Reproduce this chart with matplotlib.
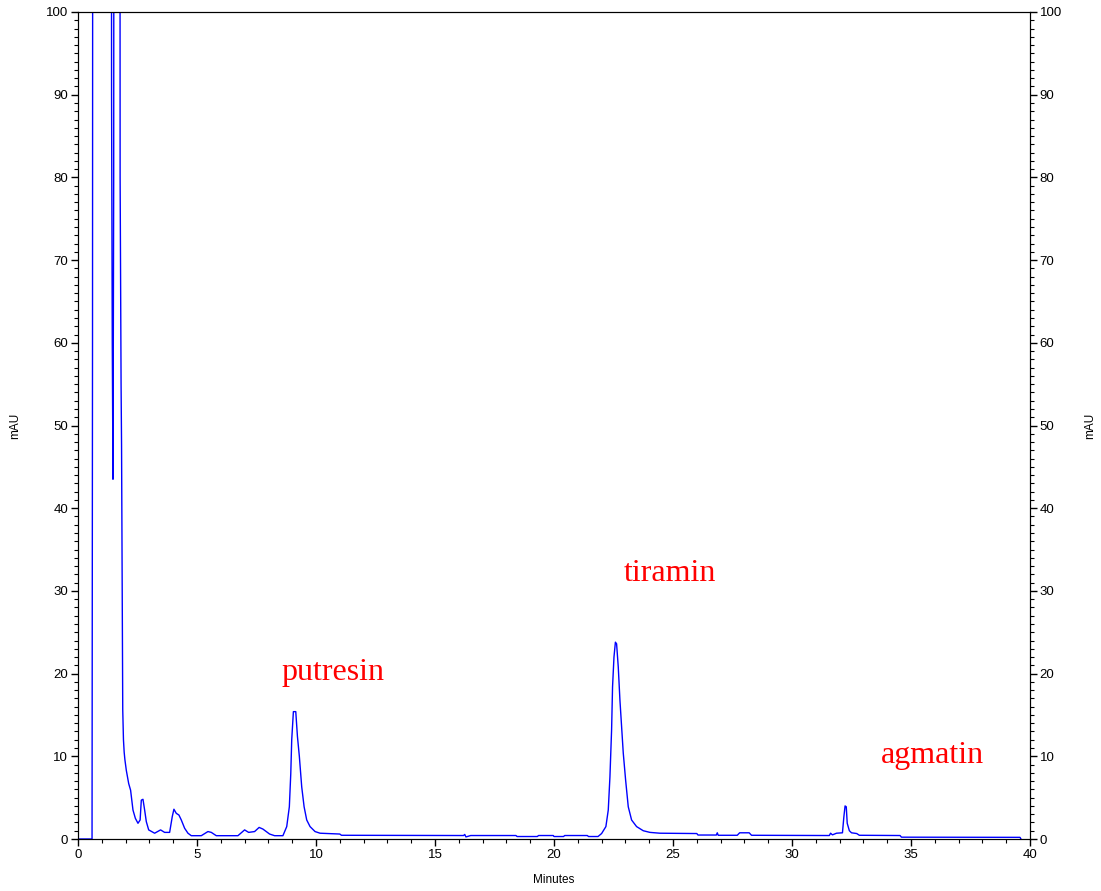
import numpy as np
import matplotlib.pyplot as plt
from matplotlib.ticker import MultipleLocator

# retention time (min) and absorbance (mAU)
minutes = [0.0, 0.59, 0.61, 0.64, 1.38, 1.41, 1.44, 1.47, 1.50, 1.54, 1.74,
           1.77, 1.81, 1.83, 1.85, 1.86, 1.88, 1.91, 1.94, 1.97, 2.03, 2.13,
           2.21, 2.31, 2.41, 2.52, 2.61, 2.66, 2.73, 2.80, 2.87, 2.97, 3.22,
           3.47, 3.64, 3.85, 3.96, 4.03, 4.13, 4.24, 4.34, 4.48, 4.62, 4.76,
           5.18, 5.46, 5.60, 5.81, 6.72, 7.00, 7.17, 7.42, 7.61, 7.77, 8.05,
           8.26, 8.61, 8.77, 8.88, 8.94, 8.98, 9.05, 9.15, 9.22, 9.30, 9.40,
           9.50, 9.61, 9.75, 9.96, 10.17, 11.0, 11.07, 16.2, 16.25, 16.3,
           16.5, 18.4, 18.45, 19.3, 19.35, 19.97, 20.0, 20.4, 20.45, 21.4,
           21.45, 21.85, 22.0, 22.18, 22.28, 22.35, 22.42, 22.46, 22.52,
           22.58, 22.63, 22.70, 22.77, 22.84, 22.91, 23.01, 23.12, 23.26,
           23.47, 23.75, 24.03, 24.45, 26.0, 26.05, 26.82, 26.86, 26.9,
           27.7, 27.8, 28.2, 28.3, 31.57, 31.62, 31.70, 31.87, 32.12, 32.18,
           32.23, 32.28, 32.32, 32.41, 32.50, 32.72, 32.83, 34.54, 34.60,
           39.58, 39.62]
mau = [0.0, 0.0, 60.0, 300.0, 300.0, 90.0, 60.0, 43.5, 80.0, 300.0, 300.0,
       80.0, 55.0, 47.6, 35.0, 27.7, 15.6, 12.0, 10.5, 9.6, 8.3, 6.7,
       5.9, 3.5, 2.5, 1.9, 2.3, 4.7, 4.8, 3.5, 2.1, 1.1, 0.7,
       1.1, 0.8, 0.8, 2.7, 3.6, 3.1, 2.9, 2.3, 1.3, 0.7, 0.4,
       0.4, 0.9, 0.8, 0.4, 0.4, 1.1, 0.8, 0.9, 1.4, 1.2, 0.6,
       0.4, 0.4, 1.5, 3.9, 7.9, 12.0, 15.4, 15.4, 12.4, 10.0, 6.3,
       3.9, 2.3, 1.5, 0.9, 0.7, 0.6, 0.45, 0.42, 0.55, 0.25,
       0.42, 0.42, 0.3, 0.3, 0.42, 0.42, 0.3, 0.3, 0.42, 0.42,
       0.3, 0.3, 0.66, 1.5, 3.5, 7.5, 13.2, 18.4, 22.0,
       23.8, 23.6, 20.8, 16.8, 13.6, 10.4, 7.1, 3.9, 2.3,
       1.5, 1.0, 0.8, 0.7, 0.66, 0.48, 0.48, 0.75, 0.45,
       0.45, 0.75, 0.75, 0.45, 0.42, 0.7, 0.5, 0.7, 0.75, 2.7,
       4.0, 3.9, 1.9, 1.0, 0.75, 0.66, 0.45, 0.42, 0.22,
       0.2, 0.0]

peak_names = ['putresin', 'tiramin', 'agmatin']
peak_x = [10.71, 24.87, 35.92]
peak_y = [19.2, 31.2, 9.2]

plt.rcParams['font.family'] = ['Liberation Sans', 'DejaVu Sans']

fig = plt.figure(figsize=(11.01, 8.91), dpi=100)
ax = fig.add_axes([78 / 1101, 52 / 891, 952 / 1101, 827 / 891])
ax.plot(minutes, mau, color='#0000ff', lw=1.0)

ax.set_xlim(0, 40)
ax.set_ylim(0, 100)
ax.xaxis.set_major_locator(MultipleLocator(5))
ax.xaxis.set_minor_locator(MultipleLocator(1))
ax.yaxis.set_major_locator(MultipleLocator(10))
ax.yaxis.set_minor_locator(MultipleLocator(1))
ax.tick_params(which='major', length=5, width=1, labelsize=9.5, pad=2)
ax.tick_params(which='minor', length=3, width=0.8)
ax.set_xlabel('Minutes', fontsize=8.5, va='center')
ax.xaxis.set_label_coords(0.5, -0.0496)
ax.set_ylabel('mAU', fontsize=8.5, va='center')
ax.yaxis.set_label_coords(-0.066, 0.5)

ax2 = ax.twinx()
ax2.set_ylim(0, 100)
ax2.yaxis.set_major_locator(MultipleLocator(10))
ax2.yaxis.set_minor_locator(MultipleLocator(1))
ax2.tick_params(which='major', length=5, width=1, labelsize=9.5, pad=2)
ax2.tick_params(which='minor', length=3, width=0.8)
ax2.set_ylabel('mAU', fontsize=8.5, va='center', rotation=90)
ax2.yaxis.set_label_coords(1.063, 0.5)

for name, x, y in zip(peak_names, peak_x, peak_y):
    ax.text(x, y, name, color='red', fontsize=23, family='Liberation Serif',
            ha='center', va='baseline')

fig.savefig('out.png', dpi=100)
